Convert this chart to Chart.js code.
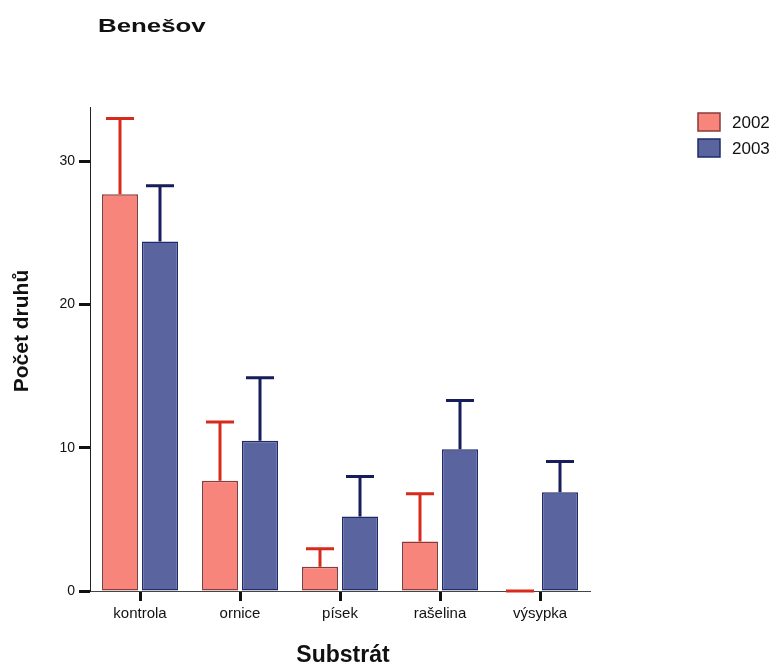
<!DOCTYPE html>
<html>
<head>
<meta charset="utf-8">
<script src="https://cdn.jsdelivr.net/npm/chart.js@4.4.1/dist/chart.umd.min.js"></script>
<style>
  html, body { margin: 0; padding: 0; background: #fff; }
  #wrap { position: relative; width: 779px; height: 666px; }
</style>
</head>
<body>
<div id="wrap"><canvas id="c" width="779" height="666"></canvas></div>
<script>
const chartTitle = "Benešov";
const xAxisTitle = "Substrát";
const yAxisTitle = "Počet druhů";
const categories = ["kontrola", "ornice", "písek", "rašelina", "výsypka"];
const seriesLabels = ["2002", "2003"];
const values2002 = [27.7, 7.7, 1.7, 3.45, 0];
const values2003 = [24.4, 10.5, 5.2, 9.9, 6.9];
const errors2002 = [5.3, 4.1, 1.25, 3.35, 0];
const errors2003 = [3.9, 4.4, 2.8, 3.4, 2.15];
const yTicks = [0, 10, 20, 30];
const yMax = 33.8;

const FONT = "'Liberation Sans', Arial, Helvetica, sans-serif";

const errorBarPlugin = {
  id: 'errorBars',
  afterDatasetsDraw(chart) {
    const ctx = chart.ctx;
    const yScale = chart.scales.y;
    chart.data.datasets.forEach((ds, di) => {
      const meta = chart.getDatasetMeta(di);
      ctx.save();
      ctx.strokeStyle = ds.errorColor;
      ctx.lineWidth = 3;
      meta.data.forEach((bar, i) => {
        const v = ds.data[i];
        const e = ds.errors[i];
        const yTop = yScale.getPixelForValue(v + e);
        const yBase = yScale.getPixelForValue(v);
        const half = 14;
        ctx.beginPath();
        if (e > 0) {
          ctx.moveTo(bar.x, yBase);
          ctx.lineTo(bar.x, yTop);
        }
        ctx.moveTo(bar.x - half, yTop);
        ctx.lineTo(bar.x + half, yTop);
        ctx.stroke();
      });
      ctx.restore();
    });
  }
};

const textPlugin = {
  id: 'texts',
  afterDraw(chart) {
    const ctx = chart.ctx;
    const area = chart.chartArea;
    ctx.save();
    ctx.fillStyle = '#111';
    // title (horizontally stretched like the original)
    ctx.save();
    ctx.font = "bold 19px " + FONT;
    ctx.textBaseline = 'alphabetic';
    ctx.translate(98, 32);
    ctx.scale(1.36, 1);
    ctx.fillText(chartTitle, 0, 0);
    ctx.restore();
    // x axis title
    ctx.font = "bold 23px " + FONT;
    ctx.textAlign = 'center';
    ctx.textBaseline = 'middle';
    ctx.fillText(xAxisTitle, (area.left + area.right) / 2 + 3, 656);
    // y axis title
    ctx.save();
    ctx.translate(22, 331);
    ctx.rotate(-Math.PI / 2);
    ctx.font = "bold 21px " + FONT;
    ctx.textAlign = 'center';
    ctx.textBaseline = 'middle';
    ctx.fillText(yAxisTitle, 0, 0);
    ctx.restore();
    // legend
    chart.data.datasets.forEach((ds, i) => {
      const bx = 698, by = 113 + i * 26;
      ctx.fillStyle = ds.backgroundColor;
      ctx.fillRect(bx, by, 22, 18);
      ctx.strokeStyle = ds.borderColor;
      ctx.lineWidth = 1.5;
      ctx.strokeRect(bx, by, 22, 18);
      ctx.fillStyle = '#111';
      ctx.font = "17px " + FONT;
      ctx.textAlign = 'left';
      ctx.textBaseline = 'middle';
      ctx.fillText(ds.label, 732, by + 10);
    });
    ctx.restore();
  }
};

new Chart(document.getElementById('c'), {
  type: 'bar',
  data: {
    labels: categories,
    datasets: [
      {
        label: seriesLabels[0],
        data: values2002,
        errors: errors2002,
        errorColor: '#d82a1c',
        backgroundColor: '#f8857c',
        borderColor: '#8b3a3a',
        borderWidth: 1.5,
        borderSkipped: false
      },
      {
        label: seriesLabels[1],
        data: values2003,
        errors: errors2003,
        errorColor: '#161c5c',
        backgroundColor: '#5a659f',
        borderColor: '#1f2a6b',
        borderWidth: 1.5,
        borderSkipped: false
      }
    ]
  },
  options: {
    responsive: false,
    animation: false,
    devicePixelRatio: 1,
    layout: { padding: { left: 0, right: 189, top: 107, bottom: 0 } },
    datasets: { bar: { categoryPercentage: 0.8, barPercentage: 0.9 } },
    plugins: { legend: { display: false }, title: { display: false }, tooltip: { enabled: false } },
    scales: {
      x: {
        afterFit(s) { s.height = 75; },
        grid: { offset: false, drawOnChartArea: false, drawTicks: true, tickLength: 10, tickWidth: 3, tickColor: '#111' },
        border: { display: true, color: '#444', width: 1 },
        ticks: { color: '#111', font: { family: FONT, size: 15 }, padding: 4 }
      },
      y: {
        min: 0,
        max: yMax,
        afterFit(s) { s.width = 90; },
        afterBuildTicks(s) { s.ticks = yTicks.map(v => ({ value: v })); },
        grid: { drawOnChartArea: false, drawTicks: true, tickLength: 11, tickWidth: 3, tickColor: '#111' },
        border: { display: true, color: '#222', width: 1 },
        ticks: { color: '#111', font: { family: FONT, size: 14 }, padding: 4 }
      }
    }
  },
  plugins: [errorBarPlugin, textPlugin]
});
</script>
</body>
</html>
